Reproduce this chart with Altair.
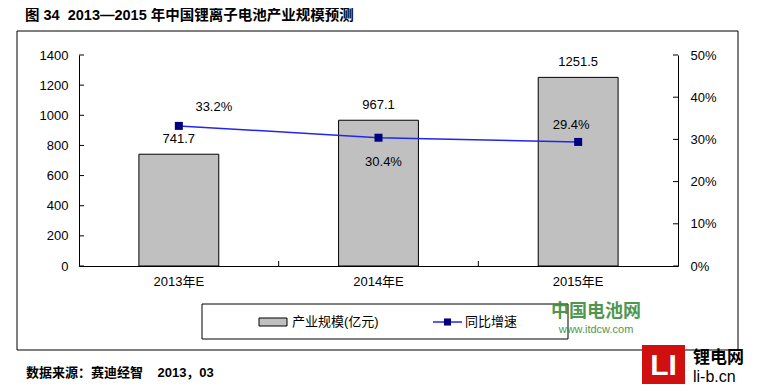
import altair as alt
import pandas as pd

# ---- data ----
years = ["2013年E", "2014年E", "2015年E"]
scale_vals = [741.7, 967.1, 1251.5]
growth = [0.332, 0.304, 0.294]
left_ticks = [0, 200, 400, 600, 800, 1000, 1200, 1400]
right_ticks = [0, 0.1, 0.2, 0.3, 0.4, 0.5]
title_text = "图\u00a034\u00a0\u00a02013—2015\u00a0年中国锂离子电池产业规模预测"
source_text = "数据来源：赛迪经智\u00a0\u00a0\u00a0\u00a02013，03"
legend_labels = ["产业规模(亿元)", "同比增速"]

W, H = 599, 211
FONT = "Arial, 'Liberation Sans', 'Noto Sans CJK SC', sans-serif"
BAR_GRAY = "#C0C0C0"
LINE_BLUE = "#2424F0"
MARK_NAVY = "#000080"

df = pd.DataFrame({"year": years, "scale": scale_vals, "growth": growth})
one = pd.DataFrame({"a": [0]})

x_scale = alt.Scale(domain=years, paddingInner=0, paddingOuter=0)
AX_X = alt.Axis(title=None, labelAngle=0, ticks=False, tickSize=0, labelPadding=9,
                domainColor="black", labelFontSize=13, labelColor="black", labelFont=FONT)
AX_L = alt.Axis(title=None, orient="left", values=left_ticks, format="d", ticks=False, tickSize=0,
                labelPadding=11, domainColor="black", grid=False, labelFontSize=13,
                labelColor="black", labelFont=FONT)
AX_R = alt.Axis(title=None, orient="right", values=right_ticks, format=".0%", ticks=False,
                tickSize=0, labelPadding=12, domainColor="black", grid=False, labelFontSize=13,
                labelColor="black", labelFont=FONT)
yl_scale = alt.Scale(domain=[0, 1400], nice=False, zero=True)
yr_scale = alt.Scale(domain=[0, 0.5], nice=False, zero=True)


def X(**kw):
    return alt.X("year:N", sort=years, scale=x_scale, axis=AX_X, **kw)


def YL(field):
    return alt.Y(field, scale=yl_scale, axis=AX_L)


def YR(field):
    return alt.Y(field, scale=yr_scale, axis=AX_R)


base = alt.Chart(df)

bars = base.mark_bar(width=alt.RelativeBandSize(0.4), color=BAR_GRAY, stroke="black",
                     strokeWidth=1).encode(x=X(), y=YL("scale:Q"))
bar_labels = base.mark_text(dy=-15, baseline="middle", fontSize=13, font=FONT,
                            color="black").encode(
    x=X(), y=YL("scale:Q"), text=alt.Text("scale:Q", format=".1f"))
left_tick_rules = alt.Chart(pd.DataFrame({"t": left_ticks})).mark_rule(
    color="black", strokeWidth=1).encode(y=YL("t:Q"), x=alt.value(0), x2=alt.value(5))
x_tick_rules = alt.Chart(pd.DataFrame({"year": years[1:]})).mark_rule(
    color="black", strokeWidth=1).encode(x=X(bandPosition=0), y=alt.value(H - 5), y2=alt.value(H))

# decorations
frame = alt.Chart(one).mark_rect(fill="transparent", stroke="black", strokeWidth=1).encode(
    x=alt.value(-62), x2=alt.value(659), y=alt.value(-24), y2=alt.value(295))
title = alt.Chart(one).mark_text(align="left", baseline="middle", fontSize=14.5,
                                 fontWeight="bold", font=FONT, color="black").encode(
    x=alt.value(-54), y=alt.value(-39), text=alt.value(title_text))
source = alt.Chart(one).mark_text(align="left", baseline="middle", fontSize=13,
                                  fontWeight="bold", font=FONT, color="black").encode(
    x=alt.value(-53), y=alt.value(318), text=alt.value(source_text))
legend_box = alt.Chart(one).mark_rect(fill="white", stroke="black", strokeWidth=1).encode(
    x=alt.value(123), x2=alt.value(489), y=alt.value(249), y2=alt.value(284))
legend_swatch = alt.Chart(one).mark_rect(fill=BAR_GRAY, stroke="black", strokeWidth=1).encode(
    x=alt.value(180), x2=alt.value(208), y=alt.value(263), y2=alt.value(271))
legend_t1 = alt.Chart(one).mark_text(align="left", baseline="middle", fontSize=13, font=FONT,
                                     color="black").encode(
    x=alt.value(213), y=alt.value(267), text=alt.value(legend_labels[0]))
legend_line = alt.Chart(one).mark_rule(color=LINE_BLUE, strokeWidth=1.5).encode(
    x=alt.value(354), x2=alt.value(383), y=alt.value(267))
legend_pt = alt.Chart(one).mark_point(shape="square", filled=True, size=50, color=MARK_NAVY,
                                      opacity=1).encode(x=alt.value(368.5), y=alt.value(267))
legend_t2 = alt.Chart(one).mark_text(align="left", baseline="middle", fontSize=13, font=FONT,
                                     color="black").encode(
    x=alt.value(386), y=alt.value(267), text=alt.value(legend_labels[1]))

# watermarks
wm1 = alt.Chart(one).mark_text(align="center", baseline="middle", fontSize=18, fontWeight="bold",
                               font=FONT, color="#3C8C3C", opacity=0.9).encode(
    x=alt.value(517), y=alt.value(257), text=alt.value("中国电池网"))
wm2 = alt.Chart(one).mark_text(align="center", baseline="middle", fontSize=11, font=FONT,
                               color="#3C8C3C", opacity=0.9).encode(
    x=alt.value(517), y=alt.value(275), text=alt.value("www.itdcw.com"))
logo_box = alt.Chart(one).mark_rect(fill="#D01010").encode(
    x=alt.value(563), x2=alt.value(606), y=alt.value(290), y2=alt.value(330))
logo_txt = alt.Chart(one).mark_text(align="center", baseline="middle", fontSize=30,
                                    fontWeight="bold", font=FONT, color="white").encode(
    x=alt.value(584.5), y=alt.value(311), text=alt.value("LI"))
logo_t1 = alt.Chart(one).mark_text(align="left", baseline="middle", fontSize=17,
                                   fontWeight="bold", font=FONT, color="black").encode(
    x=alt.value(614), y=alt.value(303), text=alt.value("锂电网"))
logo_t2 = alt.Chart(one).mark_text(align="left", baseline="middle", fontSize=16,
                                   font=FONT, color="black").encode(
    x=alt.value(614), y=alt.value(322), text=alt.value("li-b.cn"))

left = alt.layer(frame, bars, bar_labels, left_tick_rules, x_tick_rules, title, source,
                 legend_box, legend_swatch, legend_t1, legend_line, legend_pt, legend_t2,
                 wm1, wm2, logo_box, logo_txt, logo_t1, logo_t2)

line = base.mark_line(color=LINE_BLUE, strokeWidth=1.5).encode(x=X(), y=YR("growth:Q"))
points = base.mark_point(shape="square", filled=True, size=64, color=MARK_NAVY,
                         opacity=1).encode(x=X(), y=YR("growth:Q"))


def pct_label(year, dx, dy):
    return base.transform_filter(alt.datum.year == year).mark_text(
        dx=dx, dy=dy, baseline="middle", fontSize=13, font=FONT, color="black").encode(
        x=X(), y=YR("growth:Q"), text=alt.Text("growth:Q", format=".1%"))


right_tick_rules = alt.Chart(pd.DataFrame({"t": right_ticks})).mark_rule(
    color="black", strokeWidth=1).encode(y=YR("t:Q"), x=alt.value(W - 5), x2=alt.value(W))

right = alt.layer(line, points, pct_label(years[0], 35, -19), pct_label(years[1], 5, 24),
                  pct_label(years[2], -7, -17), right_tick_rules)

chart = alt.layer(left, right).resolve_scale(y="independent").properties(
    width=W, height=H, autosize=alt.AutoSizeParams(type="none"),
    padding={"left": 71, "top": 47, "right": 71, "bottom": 118},
    background="white",
).configure_view(strokeWidth=0)

chart.save("out.html", embed_options={"renderer": "svg", "actions": False})
